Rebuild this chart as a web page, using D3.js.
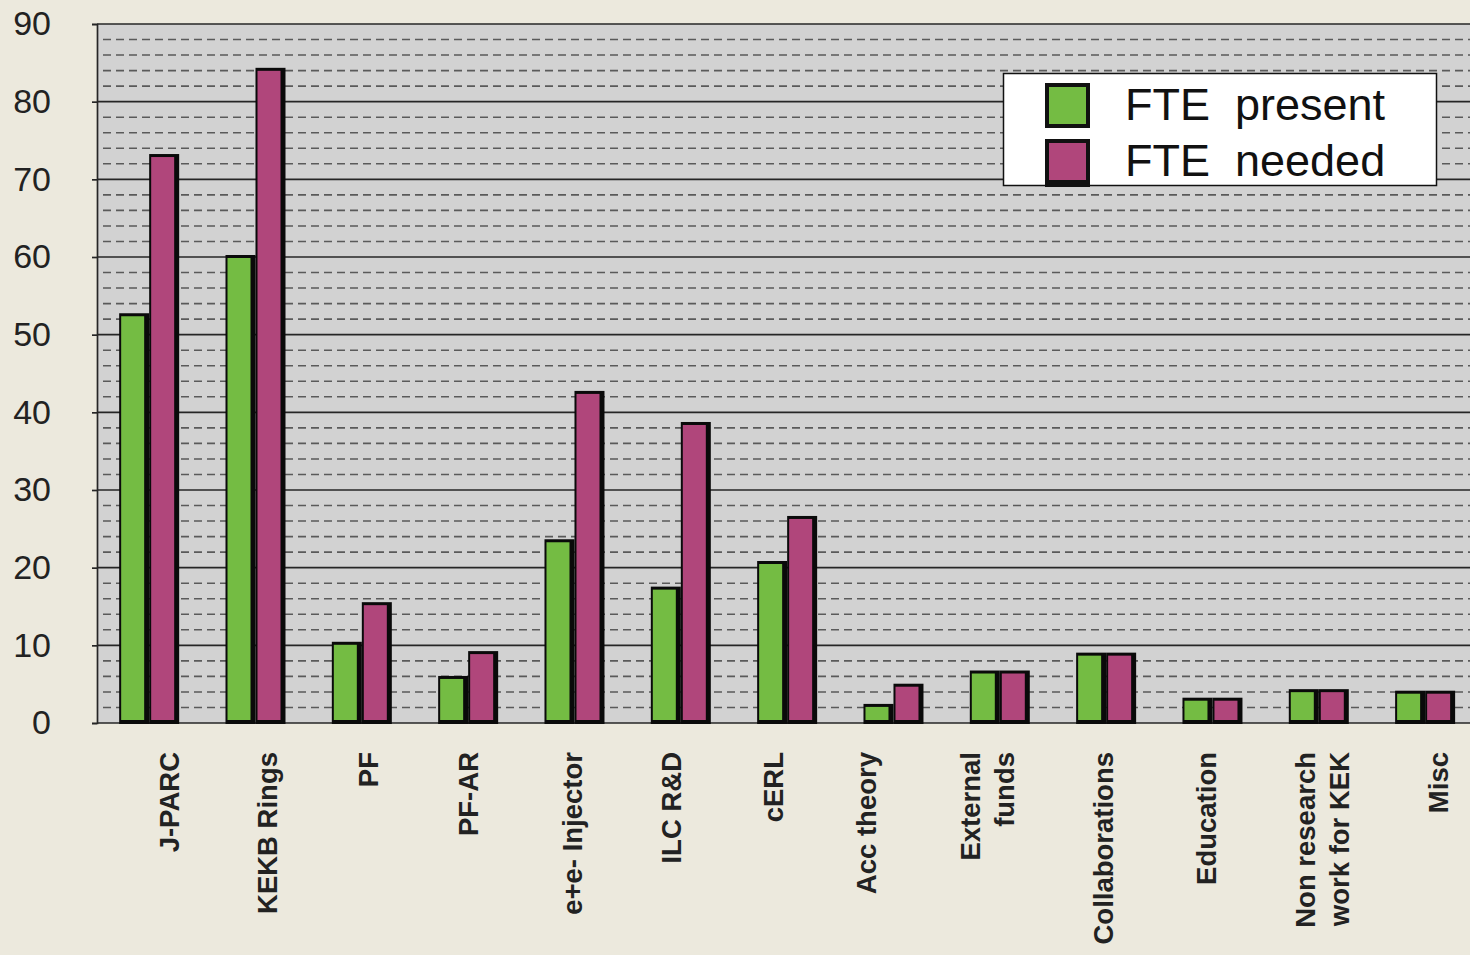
<!DOCTYPE html>
<html><head><meta charset="utf-8">
<script src="https://cdn.jsdelivr.net/npm/d3@7"></script>
<style>html,body{margin:0;padding:0;background:#ece9dd;overflow:hidden}</style>
</head><body><svg id="c" width="1470" height="955"></svg>
<script>
const categories = ["J-PARC","KEKB Rings","PF","PF-AR","e+e- Injector","ILC R&D","cERL","Acc theory","External\nfunds","Collaborations","Education","Non research\nwork for KEK","Misc"];
const ftePresent = [52.5,60.0,10.2,5.8,23.4,17.3,20.6,2.2,6.5,8.8,3.0,4.1,3.9];
const fteNeeded  = [73.0,84.1,15.3,9.0,42.5,38.5,26.4,4.8,6.5,8.8,3.0,4.1,3.9];
const seriesNames = ["FTE  present","FTE  needed"];
const seriesColors = ["#74bc43","#b0467b"];
const yTicks = [0,10,20,30,40,50,60,70,80,90];

// layout: label baseline nudges (px) relative to category centre, as placed in the original slide
const labelNudge = [30,22,16,10,8,0,-4,-17,-20,7,4,-4,23];

const svg = d3.select("#c");
const L = 97, T = 24, B = 723, R = 1478;
const x = d3.scaleBand().domain(categories).range([96, 96 + 13*106.33]).paddingInner(0).paddingOuter(0);
const y = d3.scaleLinear().domain([0, 90]).range([B, T]);
const FONT = "Liberation Sans, Arial, Helvetica, sans-serif";

svg.append("rect").attr("width",1470).attr("height",955).attr("fill","#ece9dd");
svg.append("rect").attr("x",L).attr("y",T).attr("width",R-L).attr("height",B-T).attr("fill","#d2d2d2");

// minor dashed grid (every 2)
const minor = d3.range(2, 90, 2).filter(v => v % 10 !== 0);
svg.append("g").selectAll("line").data(minor).join("line")
  .attr("x1",L+6).attr("x2",R).attr("y1",d=>y(d)).attr("y2",d=>y(d))
  .attr("stroke","#5a5a5a").attr("stroke-width",1.6).attr("stroke-dasharray","8,5");
// major grid
svg.append("g").selectAll("line").data(yTicks).join("line")
  .attr("x1",L).attr("x2",R).attr("y1",d=>y(d)).attr("y2",d=>y(d))
  .attr("stroke","#262626").attr("stroke-width",1.7);

// y axis
const yAxis = d3.axisLeft(y).tickValues(yTicks).tickSize(5).tickPadding(41);
const gy = svg.append("g").attr("transform",`translate(${L},0)`).call(yAxis);
gy.select(".domain").attr("stroke","#262626").attr("stroke-width",1.7);
gy.selectAll(".tick line").attr("stroke","#262626").attr("stroke-width",1.7);
gy.selectAll(".tick text").attr("font-family",FONT)
  .attr("font-size",34).attr("fill","#222").attr("text-anchor","end");

// bars
const sub = d3.scaleBand().domain([0,1]).range([0, 60]);
const data = categories.map((c,i)=>({c, i, v:[ftePresent[i], fteNeeded[i]]}));
const g = svg.append("g");
data.forEach(d=>{
  const cx = x(d.c) + x.bandwidth()/2;
  d.v.forEach((v,k)=>{
    const x0 = cx - 30 + sub(k);
    const bw = sub.bandwidth();
    g.append("rect").attr("x",x0).attr("y",y(v)-2).attr("width",bw).attr("height",B - y(v) + 3).attr("fill","#0a0a0a");
    g.append("rect").attr("x",x0+2).attr("y",y(v)+1).attr("width",bw-7).attr("height",Math.max(0,B - y(v) - 4)).attr("fill",seriesColors[k]);
  });
});

// x labels rotated
const xl = svg.append("g");
data.forEach(d=>{
  const cx = x(d.c) + x.bandwidth()/2 + labelNudge[d.i];
  const lines = d.c.split("\n");
  const t = xl.append("text").attr("transform",`translate(${cx},752) rotate(-90)`)
    .attr("text-anchor","end").attr("font-family",FONT).attr("font-weight","bold")
    .attr("font-size",27.5).attr("fill","#222");
  lines.forEach((s,j)=>{
    t.append("tspan").attr("x",0).attr("y",j*34).text(s);
  });
});

// legend
const lg = svg.append("g");
lg.append("rect").attr("x",1003.5).attr("y",73.5).attr("width",433).attr("height",112).attr("fill","#fff").attr("stroke","#111").attr("stroke-width",1.5);
seriesNames.forEach((n,i)=>{
  const yy = 83 + i*56;
  lg.append("rect").attr("x",1045).attr("y",yy).attr("width",45).attr("height",i===1?48:45).attr("fill","#111");
  lg.append("rect").attr("x",1049).attr("y",yy+4).attr("width",37).attr("height",37).attr("fill",seriesColors[i]);
  lg.append("text").attr("x",1125).attr("y",yy+37).attr("font-family",FONT)
    .attr("font-size",45).attr("fill","#111").style("white-space","pre").text(n);
});
</script></body></html>
